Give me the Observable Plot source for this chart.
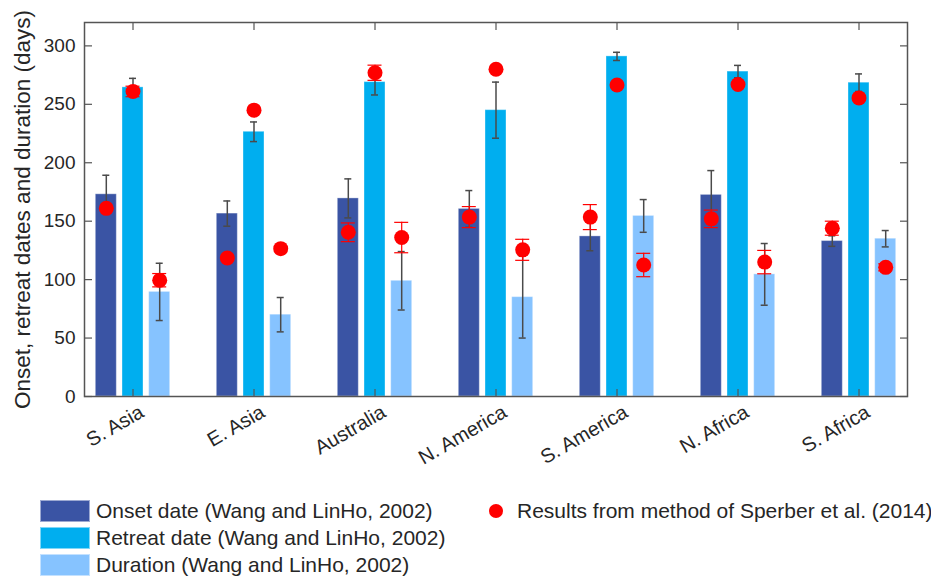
<!DOCTYPE html>
<html>
<head>
<meta charset="utf-8">
<script src="https://cdn.jsdelivr.net/npm/d3@7"></script>
<script src="https://cdn.jsdelivr.net/npm/@observablehq/plot@0.6"></script>
<style>
  body { margin: 0; background: #fff; font-family: "Liberation Sans", Arial, sans-serif; color: #262626; }
  #chart svg text { font-size: 19px; }
  #chart svg g.xlab text { font-size: 20px; }
  #chart svg g.ylab text { font-size: 22.5px; }
  #legend { display: grid; grid-template-columns: 449px auto; row-gap: 5px; margin-left: 40px; margin-top: 30px; font-size: 21px; }
  .item { display: flex; align-items: center; height: 22px; white-space: nowrap; }
  .sw { width: 50px; height: 22px; margin-right: 6px; box-sizing: border-box; border: 1px solid rgba(255,255,255,0.5); }
  .dotk { width: 14px; height: 14px; border-radius: 50%; background: #ff0000; margin-right: 14px; }
</style>
</head>
<body>
<div id="chart"></div>
<div id="legend"></div>
<script>
const regions = ["S. Asia", "E. Asia", "Australia", "N. America", "S. America", "N. Africa", "S. Africa"];
const seriesNames = ["Onset date (Wang and LinHo, 2002)", "Retreat date (Wang and LinHo, 2002)", "Duration (Wang and LinHo, 2002)"];
const sperberName = "Results from method of Sperber et al. (2014)";
const yLabel = "Onset, retreat dates and duration (days)";
const yTicks = [0, 50, 100, 150, 200, 250, 300];

const onset = [173, 156.5, 169.5, 160.5, 137, 172.5, 133];
const onsetErr = [16.3, 10.8, 16.7, 15.7, 12.3, 20.8, 4.5];
const retreat = [264.5, 226.5, 269, 245, 291, 278, 268.5];
const retreatErr = [7.7, 8.4, 11, 24, 3.5, 5.3, 7.5];
const duration = [89.5, 70, 99, 85, 154.5, 104.5, 135];
const durationErr = [24.5, 14.7, 25, 35, 14, 26.4, 7];

const sperberOnset = [161, 118.5, 140.5, 153.5, 153.5, 152, 144];
const sperberOnsetErr = [null, null, 8, 9, 10.7, 7.5, 6];
const sperberRetreat = [261, 245, 277, 280, 266.5, 267, 255.5];
const sperberRetreatErr = [4.5, null, 6.5, null, null, null, null];
const sperberDuration = [99.5, 126.5, 136, 125.5, 112.5, 115, 110.5];
const sperberDurationErr = [5.7, null, 13, 9, 10, 10, 3];

const colors = ["#3A54A4", "#00AEEF", "#86C3FF"];
const offsets = [-26.7, 0, 26.7];

const seriesData = [
  [onset, onsetErr, sperberOnset, sperberOnsetErr],
  [retreat, retreatErr, sperberRetreat, sperberRetreatErr],
  [duration, durationErr, sperberDuration, sperberDurationErr]
].map(([v, e, s, se]) => regions.map((r, i) => ({region: r, value: v[i], err: e[i], sp: s[i], spErr: se[i]})));

const font = '"Liberation Sans", Arial, sans-serif';
const axisColor = "#555";

const barMarks = [], errMarks = [], redErrMarks = [], dotMarks = [];
seriesData.forEach((data, k) => {
  const dx = offsets[k];
  barMarks.push(Plot.barY(data, {x: "region", y: "value", fill: colors[k], stroke: "#fff", strokeOpacity: 0.35, strokeWidth: 1, dx}));
  errMarks.push(
    Plot.ruleX(data, {x: "region", y1: d => d.value - d.err, y2: d => d.value + d.err, stroke: "#4a4a4a", strokeWidth: 1.5, dx}),
    Plot.tickY(data, {x: "region", y: d => d.value - d.err, stroke: "#4a4a4a", strokeWidth: 1.5, insetLeft: 7, insetRight: 7, dx}),
    Plot.tickY(data, {x: "region", y: d => d.value + d.err, stroke: "#4a4a4a", strokeWidth: 1.5, insetLeft: 7, insetRight: 7, dx})
  );
  const red = data.filter(d => d.spErr != null);
  redErrMarks.push(
    Plot.ruleX(red, {x: "region", y1: d => d.sp - d.spErr, y2: d => d.sp + d.spErr, stroke: "#ff0000", strokeWidth: 1.2, dx}),
    Plot.tickY(red, {x: "region", y: d => d.sp - d.spErr, stroke: "#ff0000", strokeWidth: 1.2, insetLeft: 3.5, insetRight: 3.5, dx}),
    Plot.tickY(red, {x: "region", y: d => d.sp + d.spErr, stroke: "#ff0000", strokeWidth: 1.2, insetLeft: 3.5, insetRight: 3.5, dx})
  );
  dotMarks.push(Plot.dot(data, {x: "region", y: "sp", r: 7.5, fill: "#ff0000", stroke: "none", dx}));
});

const chart = Plot.plot({
  width: 931,
  height: 470,
  marginLeft: 84,
  marginRight: 24,
  marginTop: 22,
  marginBottom: 74,
  style: {fontFamily: font, fontSize: "19px", color: "#262626", background: "#fff"},
  x: {domain: regions, paddingInner: 0.8265, paddingOuter: 0.3128, align: 0.5},
  y: {domain: [0, 320]},
  marks: [
    ...barMarks,
    ...errMarks,
    ...redErrMarks,
    ...dotMarks,
    Plot.frame({stroke: axisColor, strokeWidth: 1.5}),
    Plot.axisY({anchor: "left", ticks: yTicks, tickSize: 0, tickPadding: 9, label: null}),
    Plot.axisY({anchor: "left", ticks: yTicks, tickSize: -8, tickFormat: () => "", stroke: axisColor, strokeWidth: 1.2, label: null}),
    Plot.axisY({anchor: "right", ticks: yTicks, tickSize: -8, tickFormat: () => "", stroke: axisColor, strokeWidth: 1.2, label: null}),
    Plot.axisX({anchor: "bottom", tickSize: 0, tickPadding: 14, tickRotate: -30, dx: 9, label: null, className: "xlab"}),
    Plot.axisX({anchor: "bottom", tickSize: -7, tickFormat: () => "", stroke: axisColor, strokeWidth: 1.2, label: null}),
    Plot.axisX({anchor: "top", tickSize: -7, tickFormat: () => "", stroke: axisColor, strokeWidth: 1.2, label: null}),
    Plot.text([yLabel], {text: d => d, frameAnchor: "left", textAnchor: "middle", rotate: -90, dx: -62, fill: "#262626", className: "ylab"})
  ]
});
document.getElementById("chart").appendChild(chart);

const legend = document.getElementById("legend");
seriesNames.forEach((name, k) => {
  const it = document.createElement("div");
  it.className = "item";
  it.innerHTML = `<div class="sw" style="background:${colors[k]}"></div><span>${name}</span>`;
  legend.appendChild(it);
  const it2 = document.createElement("div");
  it2.className = "item";
  if (k === 0) it2.innerHTML = `<div class="dotk"></div><span>${sperberName}</span>`;
  legend.appendChild(it2);
});
</script>
</body>
</html>
